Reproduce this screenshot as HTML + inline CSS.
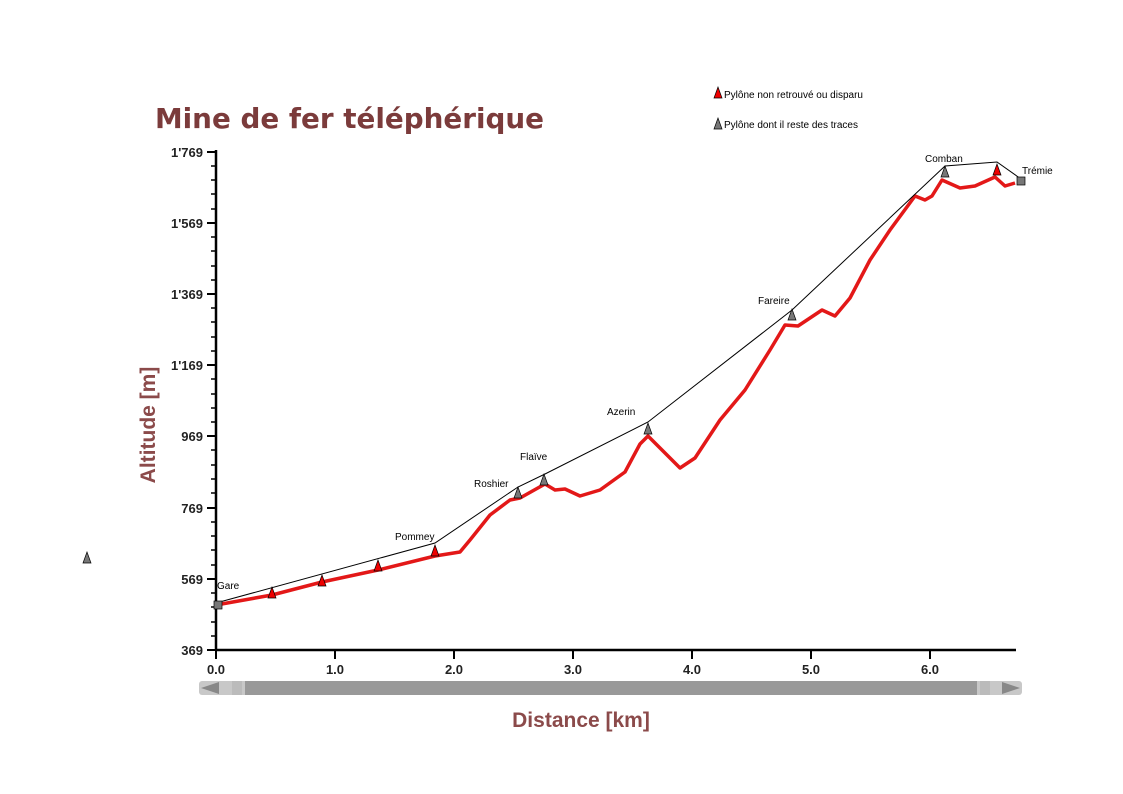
<!DOCTYPE html><html><head><meta charset="utf-8"><style>body{margin:0;background:#fff}svg{display:block;font-family:"Liberation Sans",Arial,sans-serif}</style></head><body>
<svg width="1123" height="794" viewBox="0 0 1123 794">
<text x="155" y="128" font-size="28" font-weight="bold" fill="#7b3b3b" font-family="DejaVu Sans, sans-serif" textLength="389" lengthAdjust="spacingAndGlyphs">Mine de fer téléphérique</text>
<text x="155" y="425" font-size="21" font-weight="bold" fill="#8b4a4a" transform="rotate(-90 155 425)" text-anchor="middle">Altitude [m]</text>
<text x="581" y="727" font-size="21" font-weight="bold" fill="#8b4a4a" text-anchor="middle">Distance [km]</text>
<g stroke="#000" stroke-width="2.5">
<line x1="216" y1="150" x2="216" y2="651"/><line x1="215" y1="650" x2="1016" y2="650"/>
</g>
<g stroke="#000" stroke-width="2">
<line x1="207" y1="152" x2="216" y2="152"/><line x1="207" y1="223" x2="216" y2="223"/><line x1="207" y1="294" x2="216" y2="294"/><line x1="207" y1="365" x2="216" y2="365"/><line x1="207" y1="436" x2="216" y2="436"/><line x1="207" y1="508" x2="216" y2="508"/><line x1="207" y1="579" x2="216" y2="579"/><line x1="207" y1="650" x2="216" y2="650"/>
<line x1="216" y1="650" x2="216" y2="659"/><line x1="335" y1="650" x2="335" y2="659"/><line x1="454" y1="650" x2="454" y2="659"/><line x1="573" y1="650" x2="573" y2="659"/><line x1="692" y1="650" x2="692" y2="659"/><line x1="811" y1="650" x2="811" y2="659"/><line x1="930" y1="650" x2="930" y2="659"/>
</g>
<g stroke="#000" stroke-width="1.5">
<path d="M211 166h5M211 180h5M211 194h5M211 209h5M211 237h5M211 251h5M211 266h5M211 280h5M211 308h5M211 322h5M211 337h5M211 351h5M211 379h5M211 394h5M211 408h5M211 422h5M211 450h5M211 465h5M211 479h5M211 493h5M211 522h5M211 536h5M211 550h5M211 565h5M211 593h5M211 607h5M211 622h5M211 636h5"/>
</g>
<g font-size="13" font-weight="bold" fill="#222" text-anchor="end">
<text x="203" y="157">1'769</text><text x="203" y="228">1'569</text><text x="203" y="299">1'369</text><text x="203" y="370">1'169</text><text x="203" y="441">969</text><text x="203" y="513">769</text><text x="203" y="584">569</text><text x="203" y="655">369</text>
</g>
<g font-size="13" font-weight="bold" fill="#222" text-anchor="middle">
<text x="216" y="674">0.0</text><text x="335" y="674">1.0</text><text x="454" y="674">2.0</text><text x="573" y="674">3.0</text><text x="692" y="674">4.0</text><text x="811" y="674">5.0</text><text x="930" y="674">6.0</text>
</g>
<rect x="199" y="681" width="823" height="14" rx="3" fill="#c8c8c8"/>
<rect x="245" y="681" width="732" height="14" fill="#999"/>
<rect x="232" y="681" width="10" height="14" fill="#bbb"/><rect x="980" y="681" width="10" height="14" fill="#bbb"/>
<path d="M201 688l18-6v12z" fill="#888"/><path d="M1020 688l-18-6v12z" fill="#888"/>
<polyline fill="none" stroke="#e31818" stroke-width="3.5" stroke-linejoin="round" points="216,605 272,595 322,582 378,570 435,556 460,552 470,540 490,515 510,500 520,498 545,484 555,490 565,489 580,496 600,490 625,472 640,444 648,436 660,448 680,468 695,458 720,420 745,390 770,350 785,325 798,326 810,318 822,310 835,316 850,298 870,260 890,230 915,196 925,200 932,196 942,180 960,188 975,186 995,177 1005,186 1015,183"/>
<polyline fill="none" stroke="#000" stroke-width="1" points="216,603 435,543 518,487 545,474 648,422 792,310 945,166 997,162 1021,179"/>
<g fill="#e00" stroke="#000" stroke-width="0.7">
<path d="M272,587 l-4,11 h8z"/><path d="M322,575 l-4,11 h8z"/><path d="M378,560 l-4,11 h8z"/><path d="M435,545 l-4,11 h8z"/><path d="M997,164 l-4,11 h8z"/><path d="M718,87 l-4,11 h8z"/>
</g>
<g fill="#777" stroke="#000" stroke-width="0.7">
<path d="M518,487 l-4,11 h8z"/><path d="M544,474 l-4,11 h8z"/><path d="M648,423 l-4,11 h8z"/><path d="M792,309 l-4,11 h8z"/><path d="M945,166 l-4,11 h8z"/><path d="M87,552 l-4,11 h8z"/><path d="M718,118 l-4,11 h8z"/>
<rect x="214" y="601" width="8" height="8"/><rect x="1017" y="177" width="8" height="8"/>
</g>
<g font-size="10" fill="#000">
<text x="217" y="589">Gare</text><text x="395" y="540">Pommey</text><text x="474" y="487">Roshier</text><text x="520" y="460">Flaïve</text><text x="607" y="415">Azerin</text><text x="758" y="304">Fareire</text><text x="925" y="162">Comban</text><text x="1022" y="174">Trémie</text>
<text x="724" y="98">Pylône non retrouvé ou disparu</text><text x="724" y="128">Pylône dont il reste des traces</text>
</g>
</svg></body></html>
